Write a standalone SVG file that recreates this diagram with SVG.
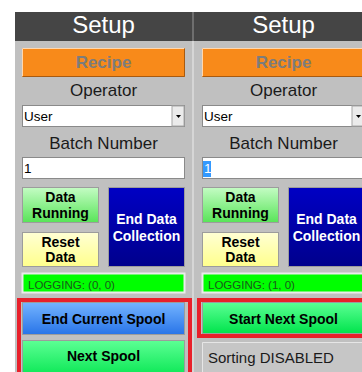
<svg xmlns="http://www.w3.org/2000/svg" width="362" height="372" viewBox="0 0 362 372">
<defs>
<linearGradient id="gGreenPale" x1="0" y1="0" x2="0" y2="1"><stop offset="0" stop-color="#c4fcc4"/><stop offset="1" stop-color="#58e458"/></linearGradient>
<linearGradient id="gYellow" x1="0" y1="0" x2="0" y2="1"><stop offset="0" stop-color="#ffffd4"/><stop offset="1" stop-color="#ffff8c"/></linearGradient>
<linearGradient id="gBlueDark" x1="0" y1="0" x2="0" y2="1"><stop offset="0" stop-color="#0000c4"/><stop offset="1" stop-color="#00008c"/></linearGradient>
<linearGradient id="gBlue" x1="0" y1="0" x2="0" y2="1"><stop offset="0" stop-color="#74b4ff"/><stop offset="1" stop-color="#2874e8"/></linearGradient>
<linearGradient id="gGreen" x1="0" y1="0" x2="0" y2="1"><stop offset="0" stop-color="#5cff94"/><stop offset="1" stop-color="#00e44c"/></linearGradient>
<style>
text{font-family:"Liberation Sans",Arial,sans-serif}
.hdr{font-size:24px;fill:#ffffff;text-anchor:middle}
.lbl{font-size:17px;fill:#1a1a1a;text-anchor:middle}
.btn{font-size:14px;font-weight:bold;fill:#000;text-anchor:middle}
.wbtn{font-size:14px;font-weight:bold;fill:#fff;text-anchor:middle}
.recipe{font-size:17px;font-weight:bold;fill:#7c7c7c;text-anchor:middle}
.inp{font-size:13.5px;fill:#000}
.log{font-size:11.5px;fill:#1a5a1a}
.btnbox{stroke:#9c9c9c;stroke-width:1}
.field{fill:#ffffff;stroke:#8a8a8a;stroke-width:1}
.hl{fill:none;stroke:#f4f4f4;stroke-width:1}
.red{fill:none;stroke:#e8202a;stroke-width:4}
</style>
</defs>
<rect x="0" y="0" width="362" height="372" fill="#ffffff"/>

<!-- panel 1 -->
<g id="panel1">
<rect x="15" y="12" width="177" height="360" fill="#c0c0c0"/>
<rect x="15" y="12" width="177" height="29" fill="#454545"/>
<text class="hdr" x="103.5" y="33">Setup</text>
</g>
<g id="divider">
<rect x="192" y="12" width="2" height="29" fill="#6e6e6e"/>
<rect x="192" y="41" width="2" height="331" fill="#d6d6d6"/>
</g>
<g id="panel2">
<rect x="194" y="12" width="168" height="360" fill="#c0c0c0"/>
<rect x="194" y="12" width="168" height="29" fill="#454545"/>
<text class="hdr" x="283.5" y="33">Setup</text>
</g>

<!-- left panel contents -->
<g id="recipe1">
<rect x="22" y="48" width="163" height="29" fill="#f88a1a"/>
<path d="M22.5 76.5V48.5H184.5" fill="none" stroke="#ffd8b0"/>
<path d="M22.5 76.5H184.5V48.5" fill="none" stroke="#a85a10"/>
<text class="recipe" x="103.5" y="68">Recipe</text>
</g>
<g id="operator1">
<text class="lbl" x="103.5" y="96">Operator</text>
<rect class="field" x="22.5" y="105.5" width="162" height="21"/>
<rect x="172" y="106" width="12" height="20" fill="#ebebeb" stroke="#a8a8a8" stroke-width="1"/>
<path d="M176 115h5l-2.5 3z" fill="#000"/>
<text class="inp" x="24" y="120.5">User</text>
</g>
<g id="batch1">
<text class="lbl" x="103.5" y="149">Batch Number</text>
<rect class="field" x="22.5" y="157.5" width="162" height="21"/>
<text class="inp" x="24" y="172.5">1</text>
</g>
<g id="dataRunning1">
<rect class="btnbox" x="22.5" y="187.5" width="76" height="35" fill="url(#gGreenPale)"/>
<text class="btn" x="60.5" y="202">Data</text>
<text class="btn" x="60.5" y="217.5">Running</text>
</g>
<g id="resetData1">
<rect class="btnbox" x="22.5" y="232.5" width="76" height="34" fill="url(#gYellow)"/>
<text class="btn" x="60.5" y="246.5">Reset</text>
<text class="btn" x="60.5" y="262">Data</text>
</g>
<g id="endData1">
<rect class="btnbox" x="108.5" y="187.5" width="76" height="79" fill="url(#gBlueDark)"/>
<text class="wbtn" x="146.5" y="224">End Data</text>
<text class="wbtn" x="146.5" y="241">Collection</text>
</g>
<g id="logging1">
<rect x="22.5" y="273.5" width="162" height="19" fill="#00ff00" stroke="#ececec" stroke-width="2"/>
<text class="log" x="28" y="288.5">LOGGING: (0, 0)</text>
</g>
<g id="spoolBox1">
<rect class="red" x="19" y="300" width="171" height="80"/>
</g>
<g id="endSpool1">
<rect class="btnbox" x="22.5" y="302.5" width="162" height="32" fill="url(#gBlue)"/>
<text class="btn" x="103.5" y="324">End Current Spool</text>
</g>
<g id="nextSpool1">
<rect class="btnbox" x="22.5" y="340.5" width="162" height="40" fill="url(#gGreen)"/>
<text class="btn" x="103.5" y="361">Next Spool</text>
</g>

<!-- right panel contents -->
<g id="recipe2">
<rect x="202" y="48" width="163" height="29" fill="#f88a1a"/>
<path d="M202.5 76.5V48.5H364.5" fill="none" stroke="#ffd8b0"/>
<path d="M202.5 76.5H364.5" fill="none" stroke="#a85a10"/>
<text class="recipe" x="283.5" y="68">Recipe</text>
</g>
<g id="operator2">
<text class="lbl" x="283.5" y="96">Operator</text>
<rect class="field" x="202.5" y="105.5" width="162" height="21"/>
<rect x="352" y="106" width="12" height="20" fill="#ebebeb" stroke="#a8a8a8" stroke-width="1"/>
<path d="M356 115h5l-2.5 3z" fill="#000"/>
<text class="inp" x="204" y="120.5">User</text>
</g>
<g id="batch2">
<text class="lbl" x="283.5" y="149">Batch Number</text>
<rect class="field" x="202.5" y="157.5" width="162" height="21"/>
<rect x="203" y="161" width="8" height="16" fill="#3399ff"/>
<text class="inp" x="204" y="172.5" fill="#ffffff" style="fill:#fff">1</text>
</g>
<g id="dataRunning2">
<rect class="btnbox" x="202.5" y="187.5" width="76" height="35" fill="url(#gGreenPale)"/>
<text class="btn" x="240.5" y="202">Data</text>
<text class="btn" x="240.5" y="217.5">Running</text>
</g>
<g id="resetData2">
<rect class="btnbox" x="202.5" y="232.5" width="76" height="34" fill="url(#gYellow)"/>
<text class="btn" x="240.5" y="246.5">Reset</text>
<text class="btn" x="240.5" y="262">Data</text>
</g>
<g id="endData2">
<rect class="btnbox" x="288.5" y="187.5" width="76" height="79" fill="url(#gBlueDark)"/>
<text class="wbtn" x="326.5" y="224">End Data</text>
<text class="wbtn" x="326.5" y="241">Collection</text>
</g>
<g id="logging2">
<rect x="202.5" y="273.5" width="162" height="19" fill="#00ff00" stroke="#ececec" stroke-width="2"/>
<text class="log" x="208" y="288.5">LOGGING: (1, 0)</text>
</g>
<g id="spoolBox2">
<rect class="red" x="199" y="300" width="171" height="36"/>
</g>
<g id="startSpool2">
<rect class="btnbox" x="202.5" y="302.5" width="162" height="31" fill="url(#gGreen)"/>
<text class="btn" x="283.5" y="324">Start Next Spool</text>
</g>
<g id="sorting2">
<rect x="202" y="342" width="163" height="40" fill="#c6c6c6"/>
<path d="M202.5 382V342.5H364.5" fill="none" stroke="#e6e6e6"/>
<text x="208" y="363" style="font-size:15px;fill:#1a1a1a">Sorting DISABLED</text>
</g>
<g id="connectors"/>
</svg>
